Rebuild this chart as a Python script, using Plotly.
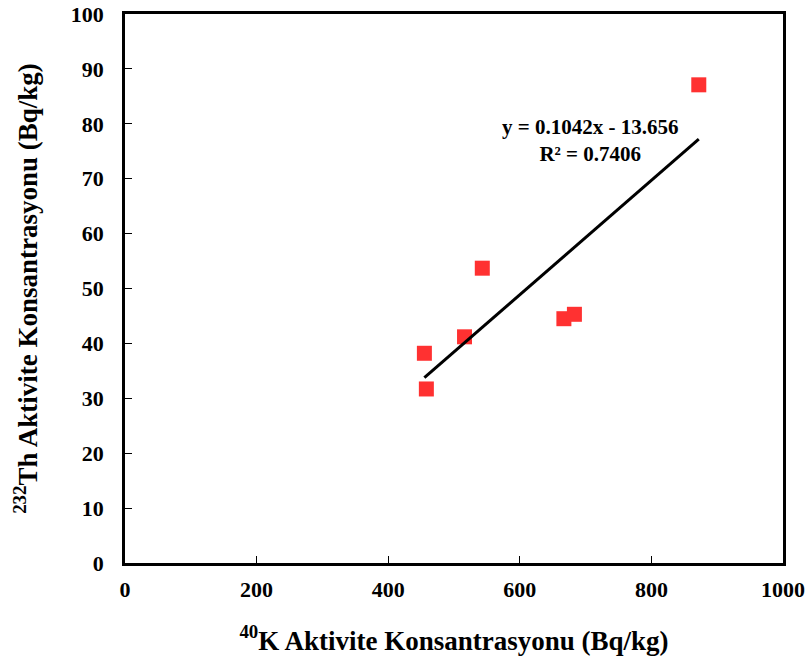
import plotly.graph_objects as go

# 40K and 232Th activity concentrations (Bq/kg)
k40 = [455, 458, 516, 543, 667, 683, 872]
th232 = [38.2, 31.7, 41.2, 53.7, 44.5, 45.3, 87.1]

# Linear trend line
slope = 0.1042
intercept = -13.656
r2 = 0.7406
x_fit = [min(k40), max(k40)]
y_fit = [slope * v + intercept for v in x_fit]

x_ticks = [0, 200, 400, 600, 800, 1000]
y_ticks = [0, 10, 20, 30, 40, 50, 60, 70, 80, 90, 100]

font_family = "Liberation Serif"
tick_font = dict(family=font_family, size=22, color="black", weight="bold")
title_font = dict(family=font_family, size=27, color="black", weight="bold")

fig = go.Figure()
fig.add_trace(go.Scatter(
    x=k40, y=th232, mode="markers",
    marker=dict(symbol="square", size=15, color="#FF3131", line=dict(width=0)),
    showlegend=False,
))
fig.add_trace(go.Scatter(
    x=x_fit, y=y_fit, mode="lines",
    line=dict(color="black", width=3),
    showlegend=False,
))

fig.add_annotation(
    x=0.707, y=0.769, xref="paper", yref="paper",
    xanchor="center", yanchor="middle",
    text=f"y = {slope}x - {abs(intercept)}<br>R² = {r2}",
    showarrow=False, align="center",
    font=dict(family=font_family, size=21, color="black", weight="bold"),
)

axis_common = dict(
    showgrid=False, zeroline=False, showline=True, linecolor="black",
    linewidth=2.5, mirror=True, ticks="inside", ticklen=7, tickwidth=1,
    tickcolor="black", tickfont=tick_font, automargin=False,
)

fig.update_xaxes(
    range=[0, 1000], tickvals=x_ticks, ticklabelstandoff=5,
    title=dict(text="<sup>40</sup>K Aktivite Konsantrasyonu (Bq/kg)",
               font=title_font, standoff=30),
    **axis_common,
)
fig.update_yaxes(
    range=[0, 100], tickvals=y_ticks, ticklabelstandoff=14,
    title=dict(text="<sup>232</sup>Th Aktivite Konsantrasyonu (Bq/kg)",
               font=title_font, standoff=26),
    **axis_common,
)
fig.update_layout(
    width=811, height=668,
    margin=dict(l=125, r=28, t=14, b=105),
    plot_bgcolor="white", paper_bgcolor="white",
    font=dict(family=font_family, color="black"),
)

fig.write_html("out.html")
